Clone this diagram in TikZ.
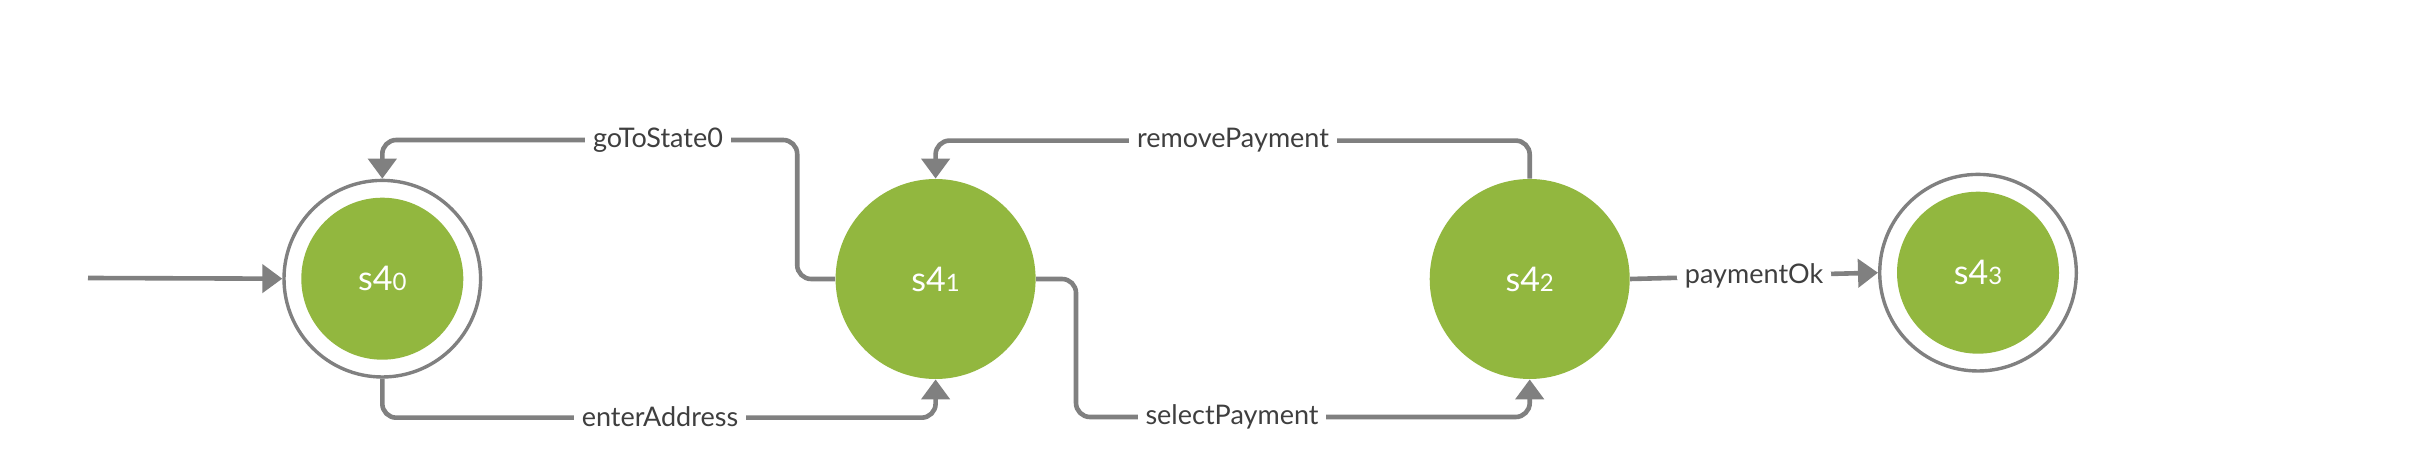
\documentclass[tikz,border=0pt]{standalone}
\usepackage{fontspec}
\setmainfont{Lato}
\usetikzlibrary{arrows.meta}
\definecolor{stgreen}{HTML}{92B73F}
\definecolor{edgegray}{HTML}{808080}
\definecolor{lblgray}{HTML}{3F3F3F}
\begin{document}
\begin{tikzpicture}[x=0.5pt,y=-0.5pt,
  state/.style={circle,fill=stgreen,minimum size=100pt,inner sep=0pt,text=white,font=\fontsize{17}{20}\selectfont},
  inner/.style={circle,fill=stgreen,minimum size=81pt,inner sep=0pt,text=white,font=\fontsize{17}{20}\selectfont},
  ring/.style={circle,draw=edgegray,line width=1.7pt,minimum size=98.3pt,inner sep=0pt},
  edge/.style={draw=edgegray,line width=2.3pt,rounded corners=7pt,-{Triangle[length=10pt,width=14pt]}},
  lbl/.style={fill=white,text=lblgray,inner xsep=4pt,inner ysep=1pt,font=\fontsize{13.5}{16}\selectfont}
]
\path[use as bounding box,fill=white] (0,0) rectangle (2414,474);
\newcommand{\sub}[1]{{\fontsize{12}{14}\selectfont #1}}
% states
\node[ring] (r0) at (382.3,278.7) {};
\node[inner] (s0) at (382.3,278.7) {s4\sub{0}};
\node[state] (s1) at (935.6,279) {s4\sub{1}};
\node[state] (s2) at (1529.7,279) {s4\sub{2}};
\node[ring] (r3) at (1978,272.7) {};
\node[inner] (s3) at (1978,272.7) {s4\sub{3}};
\coordinate (init) at (88,278);
% connectors
\draw[edge] (init) -- (r0.west);
\draw[edge] (s1.west) -- ++(-38,0) -- ++(0,-139) -| (r0.north);
\node[lbl] (l0) at (658,140) {goToState0};
\draw[edge] (r0.south) -- ++(0,39) -| (s1.south);
\node[lbl] (l1) at (660,417) {enterAddress};
\draw[edge] (s2.north) -- ++(0,-38) -| (s1.north);
\node[lbl] (l2) at (1233,140) {removePayment};
\draw[edge] (s1.east) -- ++(40,0) -- ++(0,138) -| (s2.south);
\node[lbl] (l3) at (1232,417) {selectPayment};
\draw[edge] (s2.east) -- node[lbl,pos=0.5] (l4) {paymentOk} (r3.west);
\end{tikzpicture}
\end{document}
